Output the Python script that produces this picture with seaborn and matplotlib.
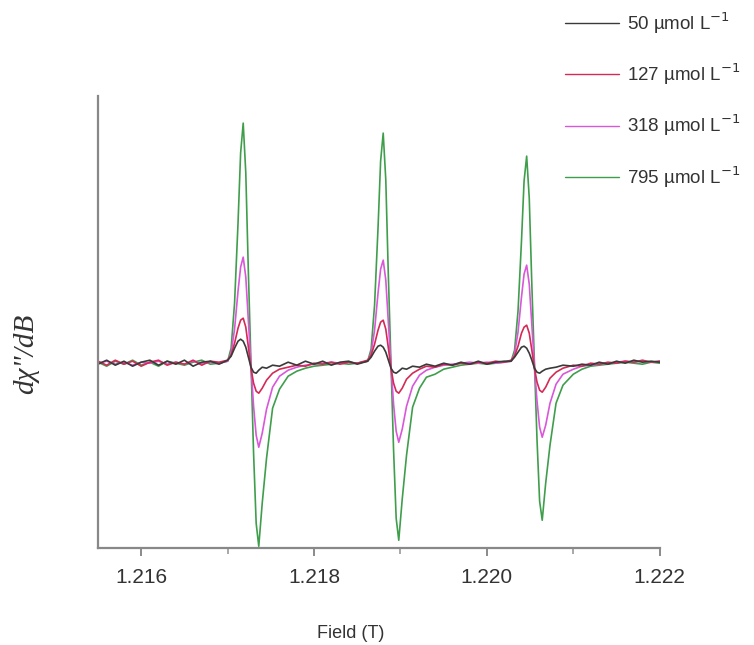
import pandas as pd
import matplotlib.pyplot as plt
import seaborn as sns
from matplotlib.ticker import MultipleLocator, FormatStrFormatter

# field axis (T): flat stretches + denser points through the three lines
field = [1.2155, 1.2156, 1.2157, 1.2158, 1.2159, 1.2160, 1.2161, 1.2162, 1.2163, 1.2164,
         1.2165, 1.2166, 1.2167, 1.2168, 1.2169,
         1.21700, 1.21704, 1.21708, 1.21712, 1.21715, 1.21718, 1.21721, 1.21724,
         1.21727, 1.21730, 1.21733, 1.21736, 1.21740, 1.21745, 1.21752, 1.21760,
         1.2177, 1.2178, 1.2179, 1.2180, 1.2181, 1.2182, 1.2183, 1.2184, 1.2185,
         1.21862, 1.21866, 1.21870, 1.21874, 1.21877, 1.21880, 1.21883, 1.21886,
         1.21889, 1.21892, 1.21895, 1.21898, 1.21902, 1.21907, 1.21914, 1.21922,
         1.2193, 1.2194, 1.2195, 1.2196, 1.2197, 1.2198, 1.2199, 1.2200, 1.2201, 1.2202,
         1.22028, 1.22032, 1.22036, 1.22040, 1.22043, 1.22046, 1.22049, 1.22052,
         1.22055, 1.22058, 1.22061, 1.22064, 1.22068, 1.22073, 1.22080, 1.22088,
         1.2210, 1.2211, 1.2212, 1.2213, 1.2214, 1.2215, 1.2216, 1.2217, 1.2218, 1.2219, 1.2220]

c795 = [0.1, -0.3, 0.2, -0.1, 0.3, -0.2, 0.1, -0.3, 0.2, 0.0, -0.2, 0.1, 0.3, -0.1, 0.0,
        0.2, 1.5, 6.0, 14.0, 21.0, 24.0, 19.0, 9.0, 0.0, -9.0, -16.0, -18.3, -14.0, -9.5, -4.5, -2.6,
        -1.3, -0.8, -0.5, -0.3, -0.2, -0.1, 0.0, -0.1, 0.0,
        0.2, 1.4, 5.8, 13.5, 20.2, 23.0, 18.3, 8.6, 0.0, -8.7, -15.5, -17.7, -13.6, -9.2, -4.4, -2.5,
        -1.4, -1.1, -0.6, -0.4, -0.2, -0.1, 0.0, -0.1, 0.0, 0.1,
        0.2, 1.3, 5.2, 12.2, 18.2, 20.7, 16.5, 7.8, 0.0, -7.7, -13.8, -15.7, -12.0, -8.2, -4.0, -2.2,
        -1.1, -0.6, -0.3, -0.2, -0.1, 0.0, 0.1, 0.0, -0.1, 0.1, 0.0]

c318 = [0.0, 0.2, -0.1, 0.1, -0.2, 0.1, 0.0, 0.2, -0.1, 0.1, -0.1, 0.2, 0.0, 0.1, 0.0,
        0.2, 1.0, 3.4, 7.2, 9.6, 10.6, 8.6, 4.2, -0.3, -4.3, -7.2, -8.4, -7.0, -4.6, -2.4, -1.3,
        -0.7, -0.4, -0.2, -0.1, 0.0, 0.1, 0.0, 0.1, 0.0,
        0.2, 1.0, 3.3, 7.0, 9.4, 10.3, 8.3, 4.0, -0.3, -4.1, -6.8, -7.9, -6.6, -4.3, -2.3, -1.2,
        -0.7, -0.4, -0.2, -0.1, 0.0, 0.1, 0.0, 0.1, 0.0, 0.1,
        0.2, 0.9, 3.1, 6.6, 8.9, 9.8, 7.9, 3.8, -0.3, -3.8, -6.4, -7.4, -6.2, -4.0, -2.1, -1.1,
        -0.6, -0.3, -0.2, -0.1, 0.0, 0.1, 0.2, 0.1, 0.2, 0.1, 0.2]

c127 = [0.2, -0.2, 0.3, -0.1, 0.2, -0.3, 0.1, 0.3, -0.2, 0.1, -0.1, 0.3, -0.2, 0.2, 0.1,
        0.3, 0.8, 2.0, 3.5, 4.3, 4.5, 3.6, 1.6, -0.5, -2.0, -2.8, -3.0, -2.5, -1.7, -1.0, -0.6,
        -0.4, -0.2, -0.3, 0.0, -0.1, 0.1, -0.1, 0.1, 0.0,
        0.3, 0.8, 1.9, 3.3, 4.1, 4.3, 3.4, 1.5, -0.5, -2.0, -2.8, -3.0, -2.5, -1.6, -1.0, -0.6,
        -0.3, -0.4, -0.1, -0.2, 0.0, -0.1, 0.1, 0.0, 0.2, 0.1,
        0.3, 0.7, 1.7, 3.0, 3.6, 3.8, 3.0, 1.3, -0.5, -1.9, -2.7, -2.9, -2.4, -1.5, -0.9, -0.5,
        -0.2, -0.3, 0.0, -0.1, 0.1, 0.0, 0.2, 0.1, 0.3, 0.1, 0.2]

c50 = [-0.1, 0.3, -0.2, 0.2, -0.3, 0.1, 0.3, -0.2, 0.2, -0.1, 0.3, -0.3, 0.1, 0.2, -0.1,
       0.3, 0.7, 1.5, 2.2, 2.4, 2.2, 1.6, 0.6, -0.4, -0.9, -1.0, -0.7, -0.4, -0.5, -0.2, -0.3,
       0.1, -0.2, 0.2, -0.1, 0.2, -0.2, 0.1, 0.2, -0.1,
       0.2, 0.6, 1.2, 1.7, 1.8, 1.6, 1.1, 0.3, -0.5, -0.9, -1.0, -0.8, -0.5, -0.6, -0.3, -0.4,
       -0.1, -0.3, 0.0, -0.2, 0.1, -0.1, 0.2, -0.1, 0.1, 0.2,
       0.2, 0.6, 1.1, 1.6, 1.7, 1.5, 1.0, 0.3, -0.5, -0.9, -1.0, -0.8, -0.6, -0.5, -0.4, -0.2,
       -0.3, -0.1, -0.2, 0.1, -0.1, 0.2, 0.0, 0.3, 0.1, 0.2, 0.1]

labels = ['50 µmol L$^{-1}$', '127 µmol L$^{-1}$', '318 µmol L$^{-1}$', '795 µmol L$^{-1}$']
colors = ['#3a3a3a', '#d42a55', '#d957d9', '#3f9e4c']
series = [c50, c127, c318, c795]

sns.set_style('ticks')
plt.rcParams['font.family'] = ['Liberation Sans', 'DejaVu Sans']

fig = plt.figure(figsize=(7.54, 6.45), dpi=100)
ax = fig.add_axes([0.130, 0.150, 0.745, 0.701])

# draw the strongest signal first so the weak ones sit on top
for vals, lab, col in reversed(list(zip(series, labels, colors))):
    df = pd.DataFrame({'field': field, 'signal': vals})
    sns.lineplot(data=df, x='field', y='signal', color=col, lw=1.2, label=lab, ax=ax)

ax.set_xlim(1.2155, 1.2220)
ax.set_ylim(-18.5, 26.7)
ax.set_yticks([])
ax.xaxis.set_major_locator(MultipleLocator(0.002))
ax.xaxis.set_minor_locator(MultipleLocator(0.001))
ax.xaxis.set_major_formatter(FormatStrFormatter('%.3f'))
ax.tick_params(axis='x', which='major', length=6, width=1.2, color='#777777',
               labelsize=15, labelcolor='#333333', pad=8)
ax.tick_params(axis='x', which='minor', length=4, width=1.2, color='#999999')

sns.despine(ax=ax)
for s in ['left', 'bottom']:
    ax.spines[s].set_color('#888888')
    ax.spines[s].set_linewidth(1.6)

ax.set_xlabel('Field (T)', fontsize=13, color='#333333')
ax.xaxis.set_label_coords(0.45, -0.17)
ax.set_ylabel('dχ"/dB', fontsize=21, color='#333333',
              family=['Liberation Serif', 'DejaVu Serif'], style='italic')
ax.yaxis.set_label_coords(-0.105, 0.43)

handles, labs = ax.get_legend_handles_labels()
leg = ax.legend(handles[::-1], labs[::-1], loc='upper left',
                bbox_to_anchor=(565 / 754, 1 - 10 / 645), bbox_transform=fig.transFigure,
                frameon=False, fontsize=13.5, handlelength=2.9, handletextpad=0.4,
                labelspacing=1.38, borderpad=0, borderaxespad=0)
for line in leg.get_lines():
    line.set_linewidth(1.0)
for t in leg.get_texts():
    t.set_color('#333333')

plt.savefig('out.png', dpi=100)
